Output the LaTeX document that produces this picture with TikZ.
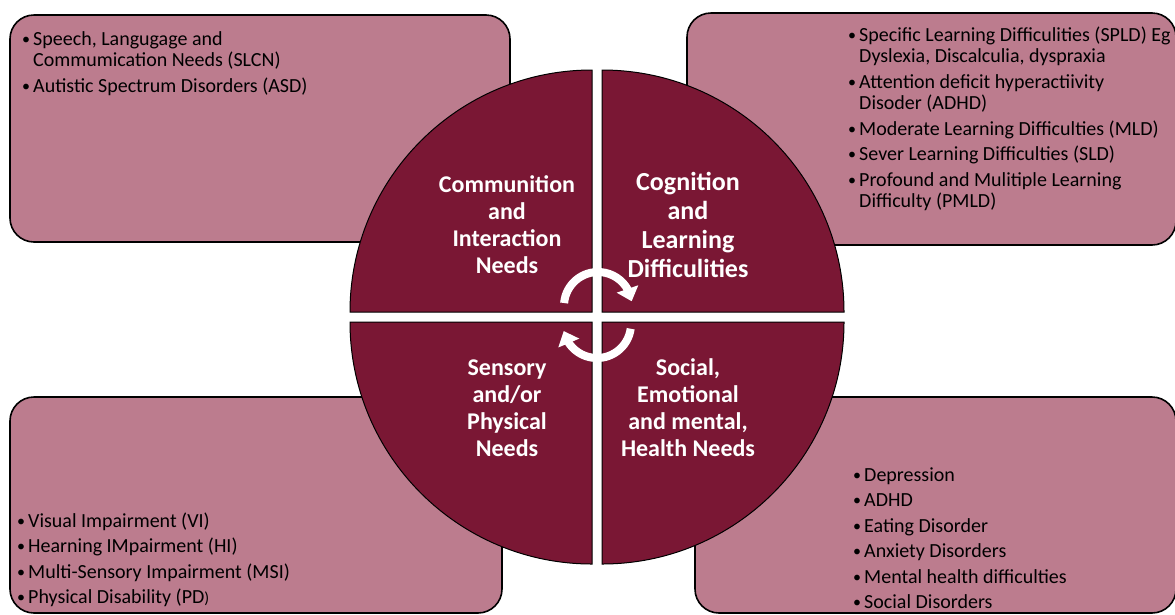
\documentclass[tikz,border=0pt]{standalone}
\usepackage{fontspec}
\setmainfont{Carlito}
\usetikzlibrary{arrows.meta,bending}
\definecolor{boxfill}{RGB}{188,124,142}
\definecolor{quadfill}{RGB}{122,23,52}
\newcommand\listitem[1]{\par\hangindent=11pt\hangafter=1\noindent\makebox[11pt][l]{\raisebox{1pt}{\scalebox{0.8}{\textbullet}}}#1}
\newcommand\itemlist[1]{\parbox[t]{330pt}{\fontsize{20}{21.5}\selectfont\setlength\parskip{4pt}\raggedright #1}}
\begin{document}
\begin{tikzpicture}[x=1pt,y=-1pt,
  infobox/.style={draw=black,line width=1.6pt,fill=boxfill,rounded corners=24pt},
  quad/.style={draw=black,line width=1pt,fill=quadfill},
  title/.style={text=white,font=\bfseries\fontsize{24}{27}\selectfont,align=center,inner sep=0pt},
  items/.style={anchor=base west,inner sep=0pt},
  cyc/.style={draw=white,line width=8pt,-{Triangle[width=22pt,length=13pt]}}]
\useasboundingbox (0,0) rectangle (1175,614);
% outer boxes
\draw[infobox] (10,15) rectangle (510,242);
\draw[infobox] (687,13) rectangle (1176,245);
\draw[infobox] (10,397) rectangle (502,613);
\draw[infobox] (695,397) rectangle (1176,613);
% quadrants
\draw[quad] (592,312) -- (350,312) arc[start angle=180,end angle=270,radius=242] -- cycle;
\draw[quad] (602,312) -- (602,70) arc[start angle=270,end angle=360,radius=242] -- cycle;
\draw[quad] (602,322) -- (844,322) arc[start angle=0,end angle=90,radius=242] -- cycle;
\draw[quad] (592,322) -- (592,564) arc[start angle=90,end angle=180,radius=242] -- cycle;
% cycle arrows
\draw[cyc] (598,306) ++(185:34) arc[start angle=185,end angle=352,radius=34];
\draw[cyc] (597,324) ++(8:34) arc[start angle=8,end angle=168,radius=34];
% titles
\node[title] (tcomm) at (507,225) {Communition\\and\\Interaction\\Needs};
\node[title,font=\bfseries\fontsize{26}{29}\selectfont] (tcog) at (688,225) {Cognition\\and\\Learning\\Difficulities};
\node[title] (tsens) at (507,408) {Sensory\\and/or\\Physical\\Needs};
\node[title] (tsoc) at (688,408) {Social,\\Emotional\\and mental,\\Health Needs};
% lists
\node[items] (lcomm) at (22,45) {\itemlist{%
  \listitem{Speech, Langugage and\newline Commumication Needs (SLCN)}
  \listitem{Autistic Spectrum Disorders (ASD)}}};
\node[items] (lcog) at (848,41) {\itemlist{%
  \listitem{Specific Learning Difficulities (SPLD) Eg\newline Dyslexia, Discalculia, dyspraxia}
  \listitem{Attention deficit hyperactiivity\newline Disoder (ADHD)}
  \listitem{Moderate Learning Difficulties (MLD)}
  \listitem{Sever Learning Difficulties (SLD)}
  \listitem{Profound and Mulitiple Learning\newline Difficulty (PMLD)}}};
\node[items] (lsens) at (17,527) {\itemlist{%
  \listitem{Visual Impairment (VI)}
  \listitem{Hearning IMpairment (HI)}
  \listitem{Multi-Sensory Impairment (MSI)}
  \listitem{Physical Disability (PD\raisebox{0pt}{\fontsize{16}{16}\selectfont)}}}};
\node[items] (lsoc) at (853,481) {\itemlist{%
  \listitem{Depression}
  \listitem{ADHD}
  \listitem{Eating Disorder}
  \listitem{Anxiety Disorders}
  \listitem{Mental health difficulties}
  \listitem{Social Disorders}}};
\end{tikzpicture}
\end{document}
